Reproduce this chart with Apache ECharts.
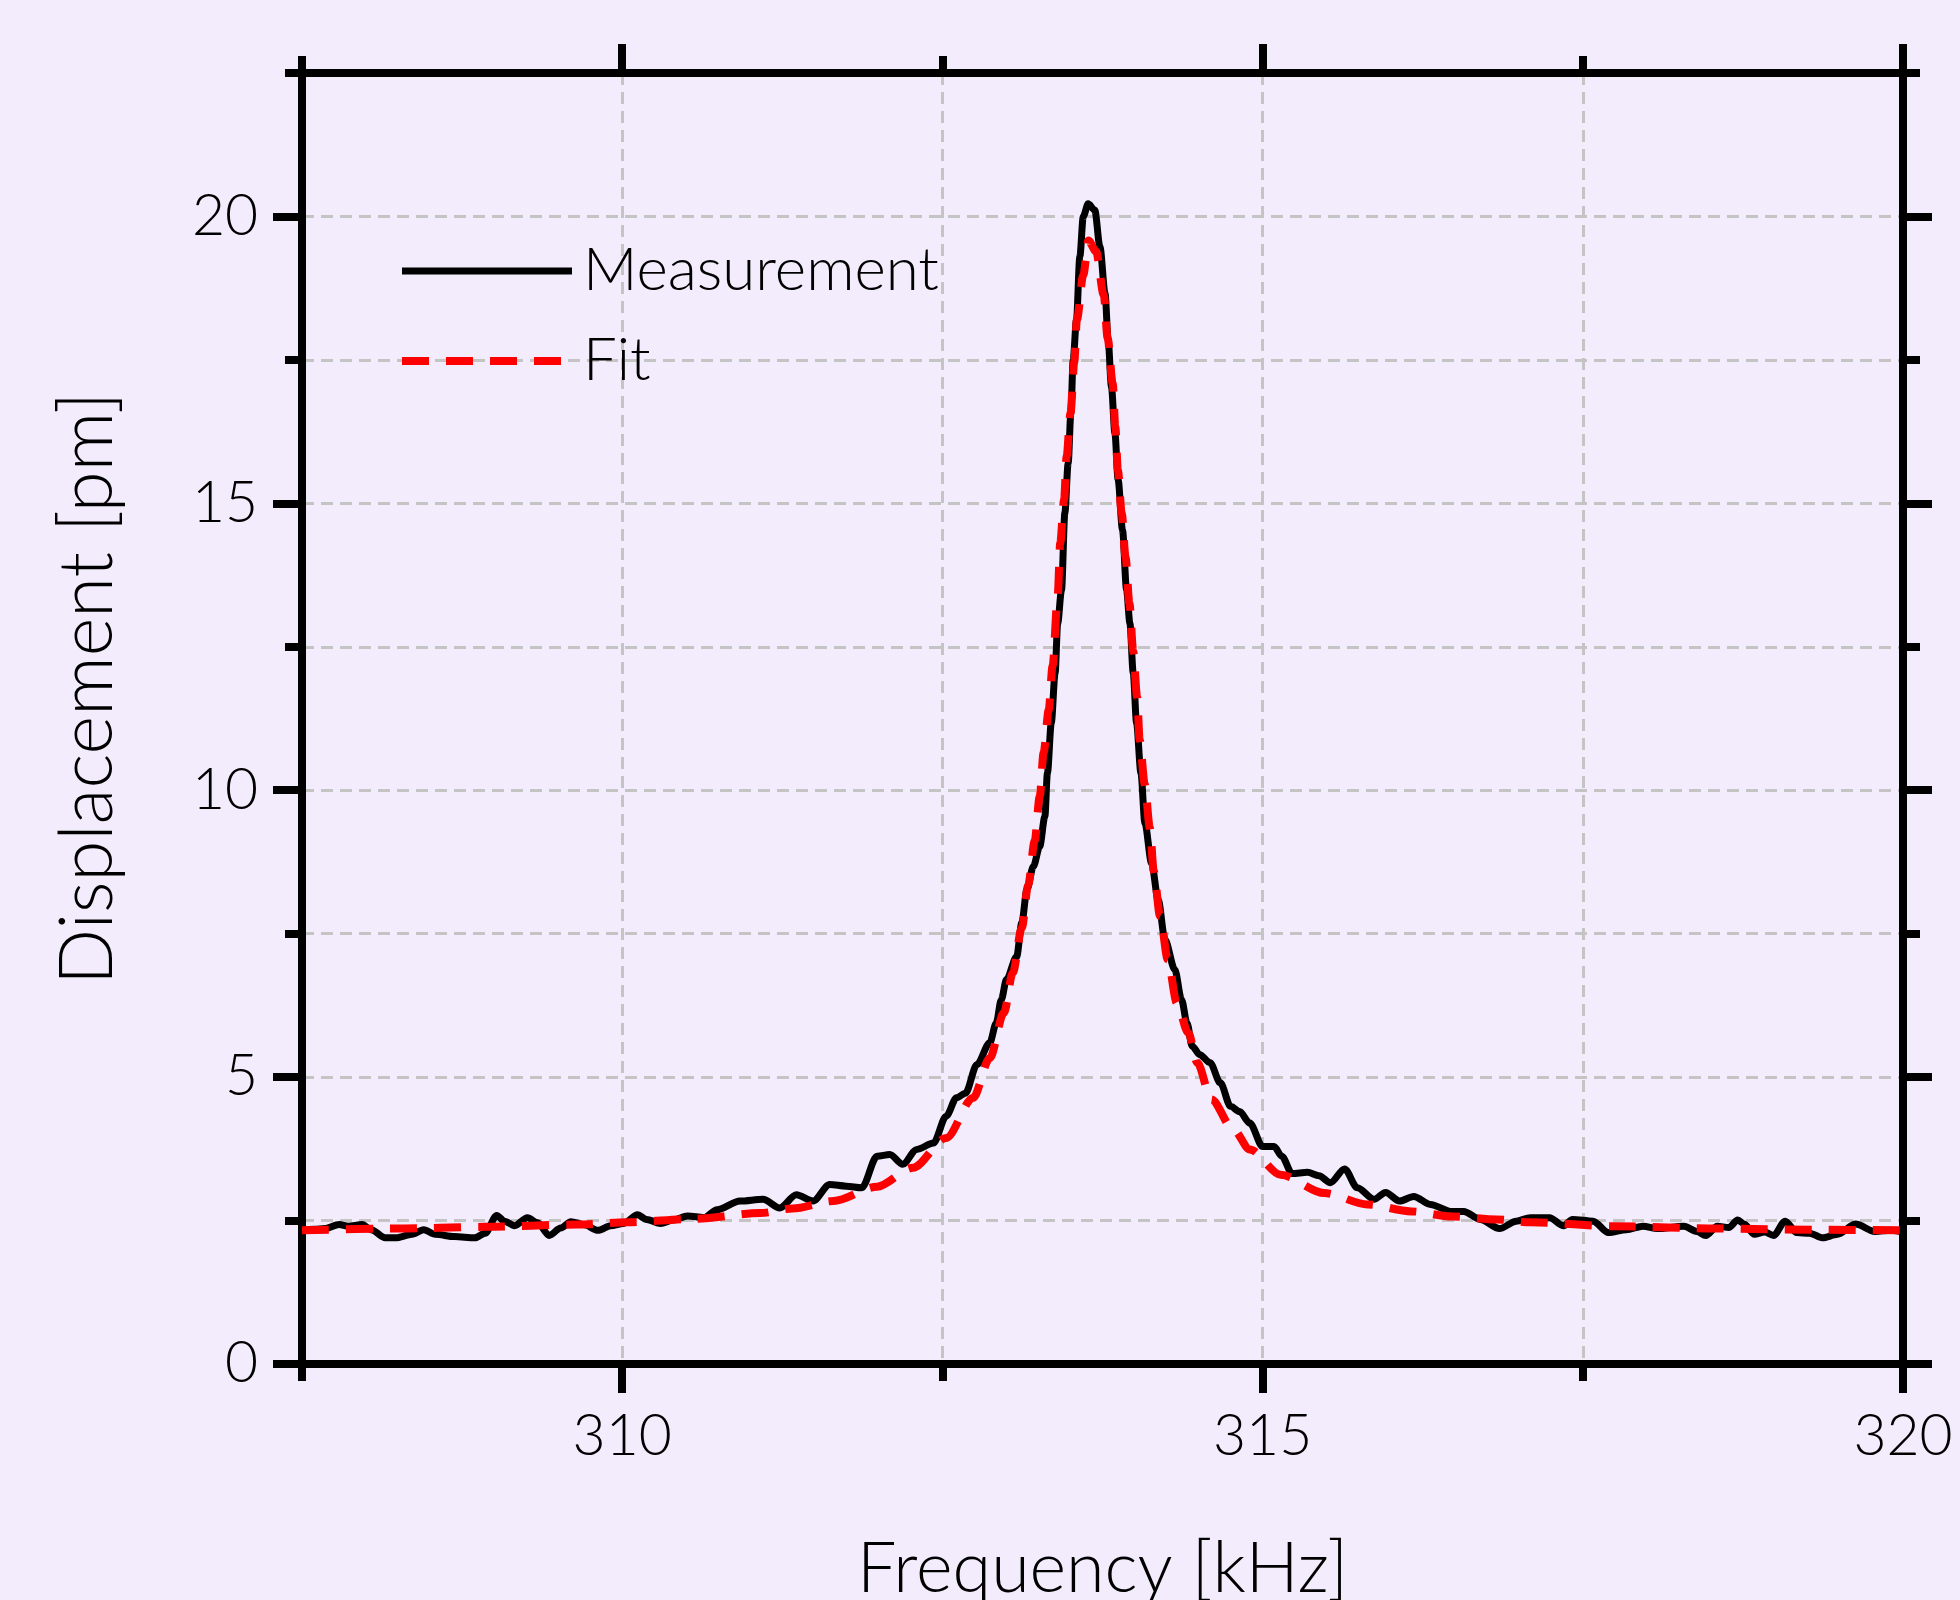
<!DOCTYPE html>
<html>
<head>
<meta charset="utf-8">
<script src="https://cdn.jsdelivr.net/npm/echarts@6/dist/echarts.min.js"></script>
<style>
  html, body { margin: 0; padding: 0; background: #F2ECFC; }
  #chart { width: 1960px; height: 1600px; }
</style>
</head>
<body>
<div id="chart"></div>
<script>
// ---- data ----
const seriesNames = ['Measurement', 'Fit'];

const measFreq = [
  307.50, 307.60, 307.68, 307.79, 307.86, 307.97, 308.04, 308.15, 308.23, 308.36,
  308.45, 308.54, 308.69, 308.85, 308.93, 309.02, 309.08, 309.16, 309.26, 309.34,
  309.43, 309.52, 309.60, 309.70, 309.81, 309.91, 310.01, 310.12, 310.19, 310.30,
  310.40, 310.51, 310.64, 310.74, 310.92, 311.10, 311.23, 311.36, 311.49, 311.62,
  311.75, 311.87, 311.99, 312.09, 312.19, 312.30, 312.43, 312.53, 312.61, 312.68,
  312.77, 312.87, 312.92, 312.96, 313.00, 313.08, 313.12, 313.16, 313.21, 313.26,
  313.30, 313.32, 313.35, 313.38, 313.40, 313.43, 313.456, 313.482, 313.503, 313.521,
  313.547, 313.573, 313.60, 313.638, 313.69, 313.73, 313.77, 313.794, 313.82, 313.847,
  313.872, 313.906, 313.938, 313.964, 313.99, 314.016, 314.05, 314.081, 314.133, 314.185,
  314.237, 314.315, 314.367, 314.41, 314.45, 314.51, 314.59, 314.67, 314.75, 314.82,
  314.90, 315.00, 315.09, 315.15, 315.23, 315.35, 315.44, 315.53, 315.64, 315.74,
  315.87, 315.96, 316.07, 316.18, 316.31, 316.47, 316.57, 316.70, 316.85, 316.98,
  317.09, 317.24, 317.35, 317.42, 317.58, 317.70, 317.84, 317.97, 318.08, 318.29,
  318.39, 318.46, 318.55, 318.64, 318.71, 318.76, 318.84, 318.92, 318.99, 319.08,
  319.17, 319.27, 319.37, 319.49, 319.63, 319.78, 319.91, 320.00
];
const measDisp = [
  2.33, 2.35, 2.36, 2.43, 2.40, 2.43, 2.34, 2.20, 2.20, 2.26,
  2.34, 2.26, 2.22, 2.20, 2.28, 2.59, 2.49, 2.41, 2.55, 2.46,
  2.24, 2.37, 2.48, 2.43, 2.33, 2.41, 2.45, 2.60, 2.52, 2.45,
  2.51, 2.58, 2.55, 2.69, 2.84, 2.87, 2.72, 2.95, 2.84, 3.13,
  3.10, 3.07, 3.62, 3.65, 3.48, 3.74, 3.85, 4.32, 4.64, 4.72,
  5.22, 5.60, 5.94, 6.35, 6.70, 7.10, 7.69, 8.27, 8.67, 9.02,
  9.54, 10.30, 11.17, 12.04, 12.91, 13.49, 14.83, 15.70, 16.57, 17.50,
  18.20, 19.30, 20.00, 20.22, 20.11, 19.47, 18.66, 17.85, 17.03, 16.22,
  15.41, 14.54, 13.49, 12.91, 12.04, 11.17, 10.30, 9.43, 8.73, 8.09,
  7.40, 6.87, 6.35, 5.94, 5.54, 5.39, 5.25, 4.90, 4.49, 4.40,
  4.20, 3.79, 3.79, 3.62, 3.32, 3.34, 3.28, 3.16, 3.40, 3.07,
  2.87, 2.99, 2.84, 2.92, 2.78, 2.66, 2.66, 2.52, 2.36, 2.49,
  2.55, 2.55, 2.41, 2.52, 2.49, 2.29, 2.34, 2.40, 2.36, 2.40,
  2.31, 2.24, 2.40, 2.38, 2.51, 2.44, 2.26, 2.30, 2.24, 2.49,
  2.29, 2.28, 2.20, 2.26, 2.44, 2.31, 2.33, 2.30
];

const fitFreq = [
  307.50, 308.23, 308.92, 309.65, 310.04, 310.56, 311.08, 311.33, 311.65, 311.99,
  312.27, 312.53, 312.74, 312.87, 312.98, 313.05, 313.12, 313.17, 313.22, 313.26,
  313.29, 313.33, 313.36, 313.40, 313.42, 313.45, 313.47, 313.50, 313.53, 313.55,
  313.60, 313.64, 313.70, 313.76, 313.79, 313.83, 313.85, 313.87, 313.90, 313.93,
  313.96, 313.99, 314.02, 314.04, 314.08, 314.12, 314.15, 314.20, 314.26, 314.33,
  314.42, 314.49, 314.60, 314.77, 314.90, 315.14, 315.48, 315.82, 316.16, 316.48,
  316.83, 317.09, 317.77, 318.55, 319.33, 320.00
];
const fitDisp = [
  2.33, 2.36, 2.39, 2.43, 2.47, 2.53, 2.63, 2.71, 2.84, 3.09,
  3.42, 3.94, 4.64, 5.33, 6.12, 6.82, 7.60, 8.35, 9.11, 9.89,
  10.65, 11.40, 12.16, 13.38, 14.31, 15.06, 15.82, 16.57, 17.47, 18.20,
  18.98, 19.58, 19.39, 18.63, 17.88, 17.09, 16.34, 15.58, 14.83, 14.07,
  13.26, 12.42, 11.63, 10.88, 10.10, 9.34, 8.59, 7.80, 7.05, 6.29,
  5.77, 5.25, 4.61, 4.09, 3.74, 3.30, 2.98, 2.78, 2.66, 2.57,
  2.52, 2.47, 2.40, 2.36, 2.34, 2.33
];

const xMajorTicks = [310, 315, 320];
const yMajorTicks = [0, 5, 10, 15, 20];
const xTitle = 'Frequency [kHz]';
const yTitle = 'Displacement [pm]';

// ---- chart ----
const FONT = 'Lato, "Open Sans", "Noto Sans", sans-serif';
const FW = 300;
const AX = '#000000';
const GRIDC = '#C4C4C4';

function xAxisPair(position, withLabels) {
  return [
    {
      type: 'value', position: position, min: 307.5, max: 320, interval: 2.5,
      axisLine: { show: true, onZero: false, lineStyle: { color: AX, width: 8 } },
      axisTick: { show: true, inside: false, length: 17, lineStyle: { color: AX, width: 8 } },
      axisLabel: withLabels ? {
        show: true, customValues: xMajorTicks, margin: 44,
        fontFamily: FONT, fontWeight: FW, fontSize: 57, color: '#000'
      } : { show: false },
      splitLine: withLabels ? { show: true, lineStyle: { color: GRIDC, width: 3, type: [12, 7] } } : { show: false },
      name: withLabels ? xTitle : '',
      nameLocation: 'middle', nameGap: 170,
      nameTextStyle: { fontFamily: FONT, fontWeight: FW, fontSize: 70, color: '#000' }
    },
    {
      type: 'value', position: position, min: 307.5, max: 320,
      axisLine: { show: false, onZero: false },
      axisTick: { show: true, inside: false, length: 29, customValues: xMajorTicks, lineStyle: { color: AX, width: 8 } },
      axisLabel: { show: false },
      splitLine: { show: false }
    }
  ];
}

function yAxisPair(position, withLabels) {
  return [
    {
      type: 'value', position: position, min: 0, max: 22.5, interval: 2.5,
      axisLine: { show: true, onZero: false, lineStyle: { color: AX, width: 8 } },
      axisTick: { show: true, inside: false, length: 17, lineStyle: { color: AX, width: 8 } },
      axisLabel: withLabels ? {
        show: true, customValues: yMajorTicks, margin: 44,
        fontFamily: FONT, fontWeight: FW, fontSize: 57, color: '#000'
      } : { show: false },
      splitLine: withLabels ? { show: true, lineStyle: { color: GRIDC, width: 3, type: [12, 7] } } : { show: false },
      name: withLabels ? yTitle : '',
      nameLocation: 'middle', nameGap: 177,
      nameTextStyle: { fontFamily: FONT, fontWeight: FW, fontSize: 74, color: '#000', padding: [0, 0, 0, 60] }
    },
    {
      type: 'value', position: position, min: 0, max: 22.5,
      axisLine: { show: false, onZero: false },
      axisTick: { show: true, inside: false, length: 29, customValues: yMajorTicks, lineStyle: { color: AX, width: 8 } },
      axisLabel: { show: false },
      splitLine: { show: false }
    }
  ];
}

const xAxes = xAxisPair('bottom', true).concat(xAxisPair('top', false));
const yAxes = yAxisPair('left', true).concat(yAxisPair('right', false));

const chart = echarts.init(document.getElementById('chart'), null, { renderer: 'canvas' });
chart.setOption({
  backgroundColor: '#F2ECFC',
  animation: false,
  grid: { left: 302, right: 57, top: 73, bottom: 236, containLabel: false, outerBoundsMode: 'none' },
  xAxis: xAxes,
  yAxis: yAxes,
  legend: {
    orient: 'vertical', left: 398, top: 241, padding: 0,
    itemWidth: 170, itemHeight: 16, itemGap: 30,
    data: seriesNames,
    lineStyle: { width: 'inherit' },
    itemStyle: { color: 'rgba(0,0,0,0)', borderWidth: 0, opacity: 0 },
    textStyle: { fontFamily: FONT, fontWeight: FW, fontSize: 60, color: '#000', padding: [0, 0, 0, 6] }
  },
  series: [
    {
      name: seriesNames[0], type: 'line', xAxisIndex: 0, yAxisIndex: 0,
      data: measFreq.map((f, i) => [f, measDisp[i]]),
      showSymbol: false, symbol: 'none', smooth: 0.3, smoothMonotone: 'x',
      lineStyle: { color: '#000000', width: 7 },
      itemStyle: { color: '#000000' }
    },
    {
      name: seriesNames[1], type: 'line', xAxisIndex: 0, yAxisIndex: 0,
      data: fitFreq.map((f, i) => [f, fitDisp[i]]),
      showSymbol: false, symbol: 'none', smooth: 0.3, smoothMonotone: 'x',
      lineStyle: { color: '#FF0000', width: 8, type: [27, 17] },
      itemStyle: { color: '#FF0000' }
    }
  ]
});
</script>
</body>
</html>
